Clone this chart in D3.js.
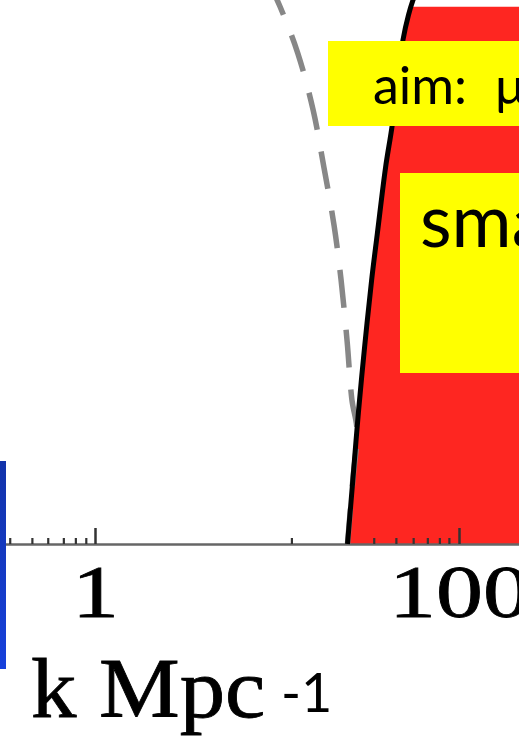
<!DOCTYPE html>
<html>
<head>
<meta charset="utf-8">
<script src="https://cdn.jsdelivr.net/npm/d3@7"></script>
<style>
  body { margin: 0; background: #fff; }
  svg { display: block; }
</style>
</head>
<body>
<script>
// log-k plot: cut-off curve, shaded region, labels
const width = 519;
const height = 736;

// axis ticks (k in Mpc^-1)
const majorTicks = [1, 100];
const minorTicks = [0.34, 0.45, 0.55, 0.67, 0.78, 0.89, 12, 34, 45, 56, 67, 78, 88];

// solid black bound (k, log10 amplitude)
const solidK = [24.4, 26.1, 28.0, 30.3, 33.1, 35.6, 39.5, 42.9, 45.9, 49.2, 52.8, 55.9, 61.8];
const solidA = [-9, -8.06, -7.07, -6.10, -5.12, -4.43, -3.46, -2.85, -2.18, -1.59, -1.22, -1.0, -0.71];

// grey dashed curve
const dashK = [8.9, 10.4, 13.0, 15.8, 18.1, 20.6, 22.5, 24.3, 25.8, 27.5, 26.1, 24.4];
const dashA = [-0.71, -1.10, -1.78, -2.62, -3.46, -4.32, -5.12, -6.03, -6.88, -7.32, -8.06, -9];

// red region top and far edge
const fillTop = -1.1;
const kEdge = 400;
const kAxisStart = 0.3;

const svg = d3.select("body").append("svg")
    .attr("width", width)
    .attr("height", height);

const x = d3.scaleLog()
    .domain([1, 100])
    .range([95, 459]);

const y = d3.scaleLinear()
    .domain([-9, -1])
    .range([544, 0]);

const solid = solidK.map((k, i) => ({k: k, a: solidA[i]}));
const dashed = dashK.map((k, i) => ({k: k, a: dashA[i]}));

// red region, clipped at fillTop
svg.append("clipPath")
    .attr("id", "fillclip")
  .append("rect")
    .attr("x", 0)
    .attr("y", y(fillTop))
    .attr("width", width)
    .attr("height", y(-9) - y(fillTop));

svg.append("path")
    .datum(solid)
    .attr("clip-path", "url(#fillclip)")
    .attr("fill", "#fe2621")
    .attr("d", d3.area()
        .curve(d3.curveCatmullRom)
        .y(d => y(d.a))
        .x0(d => x(d.k))
        .x1(x(kEdge)));

// axis line
svg.append("line")
    .attr("x1", x(kAxisStart))
    .attr("x2", x(kEdge))
    .attr("y1", y(-9) + 0.5)
    .attr("y2", y(-9) + 0.5)
    .attr("stroke", "#666")
    .attr("stroke-width", 2.6);

const minorAxis = svg.append("g")
    .attr("transform", "translate(0," + y(-9) + ")")
    .call(d3.axisBottom(x).tickValues(minorTicks).tickSize(-6).tickFormat(""));
minorAxis.select(".domain").remove();
minorAxis.selectAll("line").attr("stroke", "#333").attr("stroke-width", 2.2);

const majorAxis = svg.append("g")
    .attr("transform", "translate(0," + y(-9) + ")")
    .call(d3.axisBottom(x).tickValues(majorTicks).tickSize(-16).tickFormat(d3.format("d")));
majorAxis.select(".domain").remove();
majorAxis.selectAll("line").attr("stroke", "#333").attr("stroke-width", 2.5);
majorAxis.selectAll("text")
    .attr("y", 73)
    .attr("dy", null)
    .attr("fill", "#000")
    .attr("stroke", "#000")
    .attr("stroke-width", 0.8)
    .attr("font-family", "'Liberation Serif', 'Times New Roman', serif")
    .attr("font-size", 74)
    .attr("transform", "scale(1.27,1)");

// dashed grey curve
svg.append("path")
    .datum(dashed)
    .attr("fill", "none")
    .attr("stroke", "#878787")
    .attr("stroke-width", 5.5)
    .attr("stroke-dasharray", "38,22")
    .attr("d", d3.line()
        .curve(d3.curveCatmullRom)
        .x(d => x(d.k))
        .y(d => y(d.a)));

// solid black curve
svg.append("path")
    .datum(solid)
    .attr("fill", "none")
    .attr("stroke", "#000")
    .attr("stroke-width", 5)
    .attr("d", d3.line()
        .curve(d3.curveCatmullRom)
        .x(d => x(d.k))
        .y(d => y(d.a)));

// yellow callouts
svg.append("rect")
    .attr("x", 328).attr("y", 41)
    .attr("width", 200).attr("height", 85)
    .attr("fill", "#ffff00");

svg.append("rect")
    .attr("x", 400).attr("y", 173)
    .attr("width", 130).attr("height", 200)
    .attr("fill", "#ffff00");

const aim = svg.append("text")
    .attr("y", 104)
    .attr("font-family", "Lato, sans-serif")
    .attr("font-size", 52)
    .attr("fill", "#000");
aim.append("tspan").attr("x", 373).text("aim:");
aim.append("tspan").attr("x", 495).text("μ");

svg.append("text")
    .attr("x", 420)
    .attr("y", 247)
    .attr("font-family", "Lato, sans-serif")
    .attr("font-size", 73)
    .attr("fill", "#000")
    .text("sma");

// axis title
svg.append("text")
    .attr("transform", "translate(31,717) scale(1.08,1)")
    .attr("fill", "#000")
    .attr("stroke", "#000")
    .attr("stroke-width", 0.8)
    .attr("font-family", "'Liberation Serif', 'Times New Roman', serif")
    .attr("font-size", 84)
    .text("k Mpc");

svg.append("text")
    .attr("x", 281)
    .attr("y", 712)
    .attr("fill", "#000")
    .attr("font-family", "Lato, sans-serif")
    .attr("font-size", 54)
    .text("-1");

// blue bar at the left edge
const grad = svg.append("defs").append("linearGradient")
    .attr("id", "bluebar")
    .attr("x1", 0).attr("y1", 0).attr("x2", 0).attr("y2", 1);
grad.append("stop").attr("offset", "0%").attr("stop-color", "#1233aa");
grad.append("stop").attr("offset", "100%").attr("stop-color", "#1741dc");

svg.append("rect")
    .attr("x", 0).attr("y", 461)
    .attr("width", 6).attr("height", 208)
    .attr("fill", "url(#bluebar)");
</script>
</body>
</html>
